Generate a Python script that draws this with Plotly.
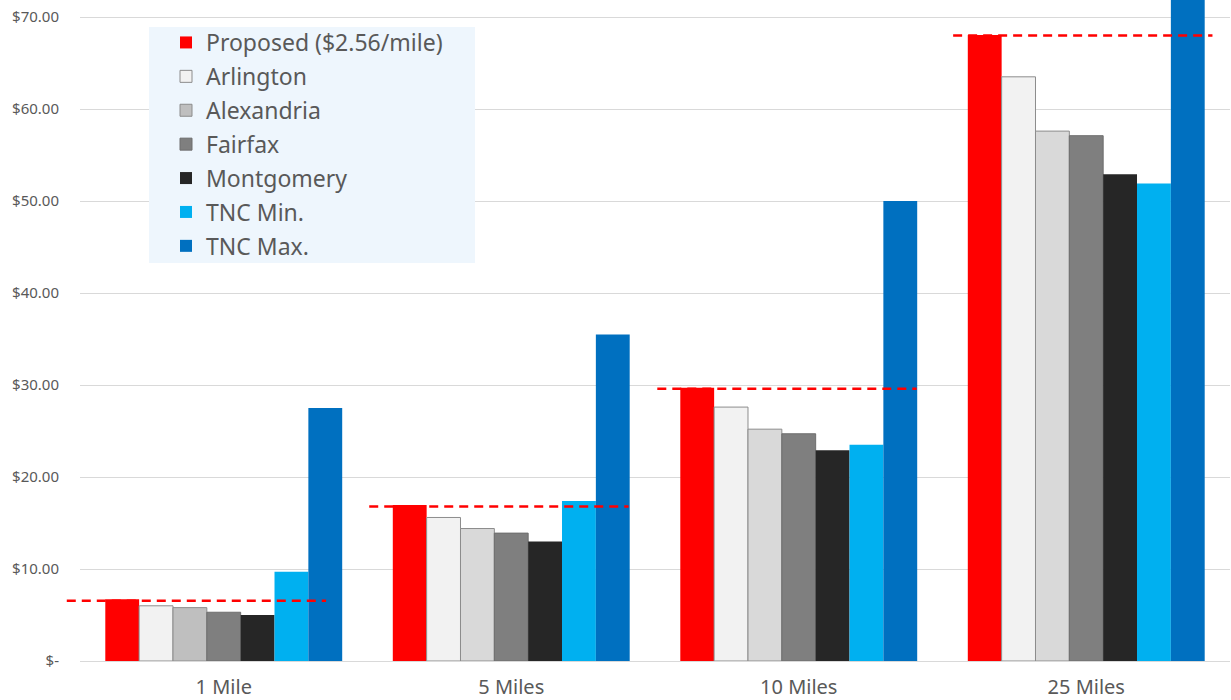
import plotly.graph_objects as go

categories = ["1 Mile", "5 Miles", "10 Miles", "25 Miles"]

proposed = [6.7, 16.95, 29.7, 68.05]
proposed_line = [6.56, 16.8, 29.6, 68.0]
arlington = [6.0, 15.6, 27.6, 63.5]
alexandria = [5.8, 14.4, 25.2, 57.6]
fairfax = [5.3, 13.9, 24.7, 57.1]
montgomery = [5.0, 13.0, 22.9, 52.9]
tnc_min = [9.7, 17.4, 23.5, 51.9]
tnc_max = [27.5, 35.5, 50.0, 93.5]

y_ticks = [0, 10, 20, 30, 40, 50, 60, 70]
y_tick_labels = ["$-", "$10.00", "$20.00", "$30.00", "$40.00", "$50.00", "$60.00", "$70.00"]

series = [
    ("Proposed ($2.56/mile)", proposed, "#FF0000", "#FF0000", 0),
    ("Arlington", arlington, "#F2F2F2", "#8C8C8C", 1),
    ("Alexandria", alexandria, ["#BFBFBF", "#D9D9D9", "#D9D9D9", "#D9D9D9"], "#8C8C8C", 1),
    ("Fairfax", fairfax, "#7F7F7F", "#6E6E6E", 1),
    ("Montgomery", montgomery, "#262626", "#262626", 0),
    ("TNC Min.", tnc_min, "#00B0F0", "#00B0F0", 0),
    ("TNC Max.", tnc_max, "#0070C0", "#0070C0", 0),
]

Y_MAX = 71.85

fig = go.Figure()
for name, vals, color, edge, lw in series:
    fig.add_trace(go.Bar(
        name=name, x=categories, y=vals, legendgroup=name,
        marker=dict(color=color, line=dict(color=edge, width=lw)),
    ))

# dashed reference line at the proposed fare for each distance;
# start offset (in category widths from the group centre) and length
dash_start = [-0.546, -0.494, -0.492, -0.463]
dash_len = 0.902
n_cat = len(categories)
for i, v in enumerate(proposed_line):
    x0 = (i + 0.5 + dash_start[i]) / n_cat
    fig.add_shape(
        type="line", xref="paper", yref="y",
        x0=x0, x1=x0 + dash_len / n_cat, y0=v, y1=v,
        line=dict(color="#FF0000", width=2.5, dash="9px,6px"),
        layer="above",
    )

W, H = 1231, 700
L, R, T, B = 80, 1, 0, 39
pw, ph = W - L - R, H - T - B

# legend background panel
fig.add_shape(
    type="rect", xref="paper", yref="paper",
    x0=(149 - L) / pw, x1=(475 - L) / pw,
    y0=1 - (263 - T) / ph, y1=1 - (27 - T) / ph,
    fillcolor="#EEF6FD", line=dict(width=0), layer="above",
)

fig.update_layout(
    width=W, height=H,
    margin=dict(l=L, r=R, t=T, b=B, autoexpand=False),
    paper_bgcolor="white", plot_bgcolor="white",
    barmode="group", bargap=0.176, bargroupgap=0,
    font=dict(family="Noto Sans, Liberation Sans, sans-serif", color="#595959"),
    legend=dict(
        x=(166 - L) / pw, y=1 - (21 - T) / ph, xanchor="left", yanchor="top",
        bgcolor="rgba(0,0,0,0)", borderwidth=0,
        font=dict(size=23, color="#595959"),
        itemwidth=30,
        traceorder="grouped", tracegroupgap=1,
    ),
    showlegend=True,
)
fig.update_xaxes(
    range=[-0.5, 3.5],
    showgrid=False, showline=True, linecolor="#D9D9D9", linewidth=1,
    tickfont=dict(size=20, color="#595959"), ticks="", ticklabelstandoff=8,
    automargin=False,
)
fig.update_yaxes(
    range=[0, Y_MAX], tickvals=y_ticks, ticktext=y_tick_labels,
    showgrid=True, gridcolor="#D9D9D9", gridwidth=1, zeroline=False,
    tickfont=dict(size=15, color="#595959"), ticks="", ticklabelstandoff=20,
    showline=False, automargin=False,
)

fig.write_html("out.html")
